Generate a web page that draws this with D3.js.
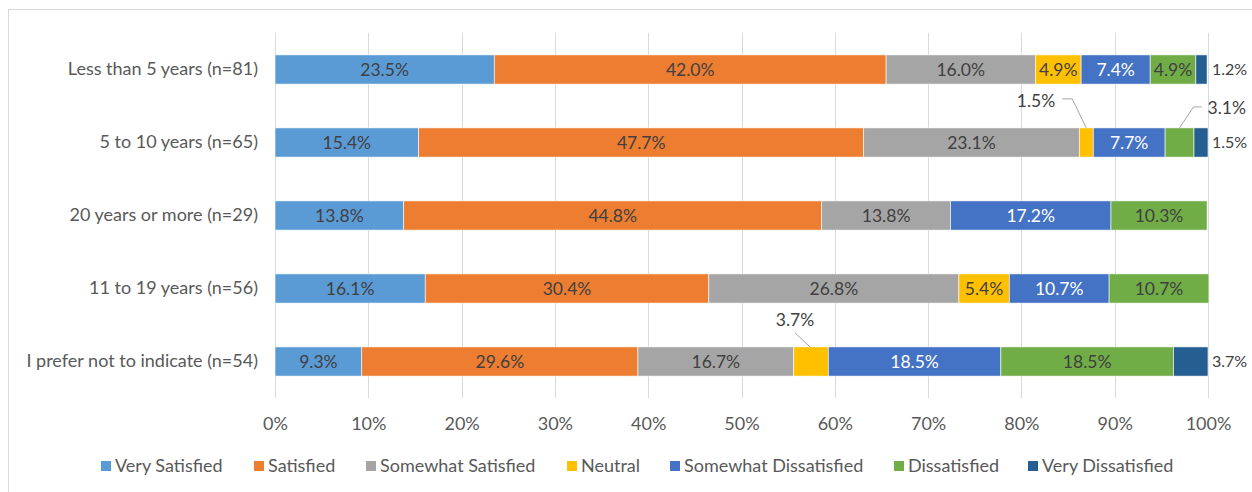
<!DOCTYPE html>
<html><head><meta charset="utf-8">
<script src="https://cdn.jsdelivr.net/npm/d3@7"></script>
<style>body{margin:0;background:#fff}svg{display:block}text{font-family:Lato,"Open Sans",sans-serif}</style>
</head><body><svg id="c" width="1252" height="492"></svg>
<script>
const categories = ["Less than 5 years (n=81)","5 to 10 years (n=65)","20 years or more (n=29)","11 to 19 years (n=56)","I prefer not to indicate (n=54)"];
const seriesNames = ["Very Satisfied","Satisfied","Somewhat Satisfied","Neutral","Somewhat Dissatisfied","Dissatisfied","Very Dissatisfied"];
const verySatisfied = [23.5,15.4,13.8,16.1,9.3];
const satisfied = [42.0,47.7,44.8,30.4,29.6];
const somewhatSatisfied = [16.0,23.1,13.8,26.8,16.7];
const neutral = [4.9,1.5,0,5.4,3.7];
const somewhatDissatisfied = [7.4,7.7,17.2,10.7,18.5];
const dissatisfied = [4.9,3.1,10.3,10.7,18.5];
const veryDissatisfied = [1.2,1.5,0,0,3.7];
const xTicks = [0,10,20,30,40,50,60,70,80,90,100];
const colors = ["#5B9BD5","#ED7D31","#A5A5A5","#FFC000","#4472C4","#70AD47","#255E91"];
const labelColors = ["#404040","#404040","#404040","#404040","#FFFFFF","#404040","#404040"];

const seriesValues = [verySatisfied,satisfied,somewhatSatisfied,neutral,somewhatDissatisfied,dissatisfied,veryDissatisfied];
const svg = d3.select("#c");
const FS = 18, DFS = 17.5;

// chart border
svg.append("rect").attr("x",8.5).attr("y",9.5).attr("width",1300).attr("height",600)
  .attr("fill","none").attr("stroke","#D9D9D9");

const x = d3.scaleLinear().domain([0,100]).range([275,1208]);
const y = d3.scaleBand().domain(categories).range([33,398]).paddingInner(0.6).paddingOuter(0.3);

// gridlines
svg.append("g").selectAll("line").data(xTicks).join("line")
  .attr("x1",d=>Math.round(x(d))+0.5).attr("x2",d=>Math.round(x(d))+0.5)
  .attr("y1",33).attr("y2",398).attr("stroke","#D9D9D9").attr("stroke-width",1);

// x axis labels
const xAxis = d3.axisBottom(x).tickValues(xTicks).tickFormat(d=>d+"%").tickSize(0).tickPadding(0);
const gx = svg.append("g").attr("transform","translate(0,430)").call(xAxis);
gx.select(".domain").remove();
gx.selectAll("text").attr("font-size",FS).attr("fill","#595959").attr("dy","0").attr("font-family","Lato");

// y axis labels
const yAxis = d3.axisLeft(y).tickSize(0).tickPadding(0);
const gy = svg.append("g").attr("transform","translate(258,0)").call(yAxis);
gy.select(".domain").remove();
gy.selectAll("text").attr("font-size",FS).attr("fill","#595959").attr("font-family","Lato");

// stack data
const rows = categories.map((c,i)=>{ const o={cat:c}; seriesNames.forEach((s,j)=>o[s]=seriesValues[j][i]); return o;});
const stack = d3.stack().keys(seriesNames)(rows);

const gBars = svg.append("g");
stack.forEach((layer,j)=>{
  gBars.append("g").selectAll("rect").data(layer).join("rect")
    .attr("x",d=>x(d[0])).attr("width",d=>Math.max(0,x(d[1])-x(d[0])))
    .attr("y",d=>y(d.data.cat)).attr("height",y.bandwidth())
    .attr("fill",colors[j]).attr("stroke","#fff").attr("stroke-width",0.6);
});

// label placements (special cases)
const outside = {"0-6":1,"1-6":1,"4-6":1};
const callouts = {
  "1-3": {line:[[0,0],[-14,-29],[-24,-29]], tx:-31, ty:-27, anchor:"end"},
  "1-5": {line:[[0,0],[14,-21],[22,-21]], tx:28, ty:-20, anchor:"start"},
  "4-3": {line:[[-1,0],[-16,-14]], tx:-16, ty:-27, anchor:"middle"}
};
const gL = svg.append("g");
stack.forEach((layer,j)=>{
  layer.forEach((d,i)=>{
    const v = seriesValues[j][i];
    if(!v) return;
    const key = i+"-"+j;
    const cx = (x(d[0])+x(d[1]))/2;
    const cy = y(d.data.cat)+y.bandwidth()/2;
    const top = y(d.data.cat);
    const txt = v.toFixed(1)+"%";
    if(outside[key]){
      gL.append("text").attr("x",x(100)+4).attr("y",cy).attr("dy","0.35em")
        .attr("font-size",DFS-1.5).attr("fill","#404040").text(txt);
    } else if(callouts[key]){
      const c = callouts[key];
      gL.append("path").attr("d",d3.line()(c.line.map(p=>[cx+p[0],top+p[1]])))
        .attr("fill","none").attr("stroke","#A5A5A5").attr("stroke-width",1);
      gL.append("text").attr("x",cx+c.tx).attr("y",top+c.ty).attr("dy","0.35em")
        .attr("text-anchor",c.anchor).attr("font-size",DFS).attr("fill","#404040").text(txt);
    } else {
      gL.append("text").attr("x",cx).attr("y",cy).attr("dy","0.35em").attr("text-anchor","middle")
        .attr("font-size",DFS).attr("fill",labelColors[j]).text(txt);
    }
  });
});

// legend
const legendX = [101,254,366,567,670,894,1028];
const gLeg = svg.append("g");
seriesNames.forEach((s,j)=>{
  gLeg.append("rect").attr("x",legendX[j]).attr("y",461).attr("width",10).attr("height",10).attr("fill",colors[j]);
  gLeg.append("text").attr("x",legendX[j]+14).attr("y",466).attr("dy","0.35em")
    .attr("font-size",FS).attr("fill","#595959").text(s);
});
</script></body></html>
